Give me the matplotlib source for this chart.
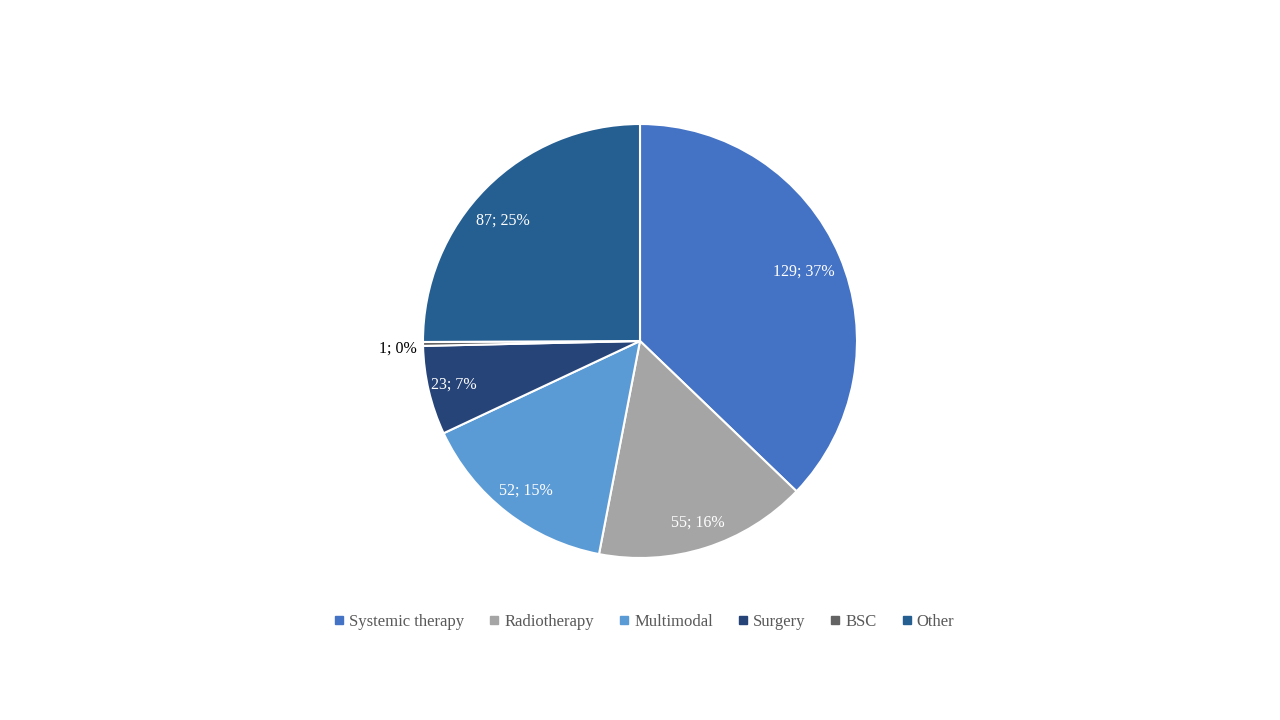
import numpy as np
import matplotlib
matplotlib.use("Agg")
import matplotlib.pyplot as plt
from matplotlib.lines import Line2D

categories = ["Systemic therapy", "Radiotherapy", "Multimodal", "Surgery", "BSC", "Other"]
values = [129, 55, 52, 23, 1, 87]
pct_labels = ["37%", "16%", "15%", "7%", "0%", "25%"]
colors = ["#4472C4", "#A5A5A5", "#5B9BD5", "#264478", "#636363", "#255E91"]

# label placement (style): radial distance and angular nudge in degrees
label_dist = [0.82, 0.88, 0.87, 0.88, 1.03, 0.84]
label_nudge = [0, 0, 0.5, 0, 1.3, 3.5]

plt.rcParams['font.family'] = ['Liberation Serif', 'DejaVu Serif']

W, H = 1280, 720
fig = plt.figure(figsize=(12.8, 7.2), dpi=100)
cx, cy, r = 640, 720 - 341, 217
ax = fig.add_axes([(cx - r) / W, (cy - r) / H, 2 * r / W, 2 * r / H])

wedges, _ = ax.pie(values, colors=colors, startangle=90, counterclock=False,
                   wedgeprops=dict(edgecolor="white", linewidth=1.5))
ax.set_xlim(-1, 1)
ax.set_ylim(-1, 1)
ax.set_aspect("equal")

total = sum(values)
for w, v, p, d, n in zip(wedges, values, pct_labels, label_dist, label_nudge):
    mid = np.deg2rad((w.theta1 + w.theta2) / 2 + n)
    txt = f"{v}; {p}"
    x, y = d * np.cos(mid), d * np.sin(mid)
    if v / total < 0.02:
        ax.text(x, y, txt, ha="right", va="center", fontsize=11.5, color="#000000")
    else:
        ax.text(x, y, txt, ha="center", va="center", fontsize=11.5, color="white")

handles = [Line2D([], [], marker="s", linestyle="none", markersize=6,
                  markerfacecolor=c, markeredgecolor=c) for c in colors]
fig.legend(handles, categories, loc="center", bbox_to_anchor=(0.502, 1 - 622 / H),
           ncol=6, frameon=False, fontsize=12, labelcolor="#595959",
           handletextpad=0.1, columnspacing=1.3, handlelength=1.0)

fig.savefig("out.png", dpi=100, facecolor="white")
